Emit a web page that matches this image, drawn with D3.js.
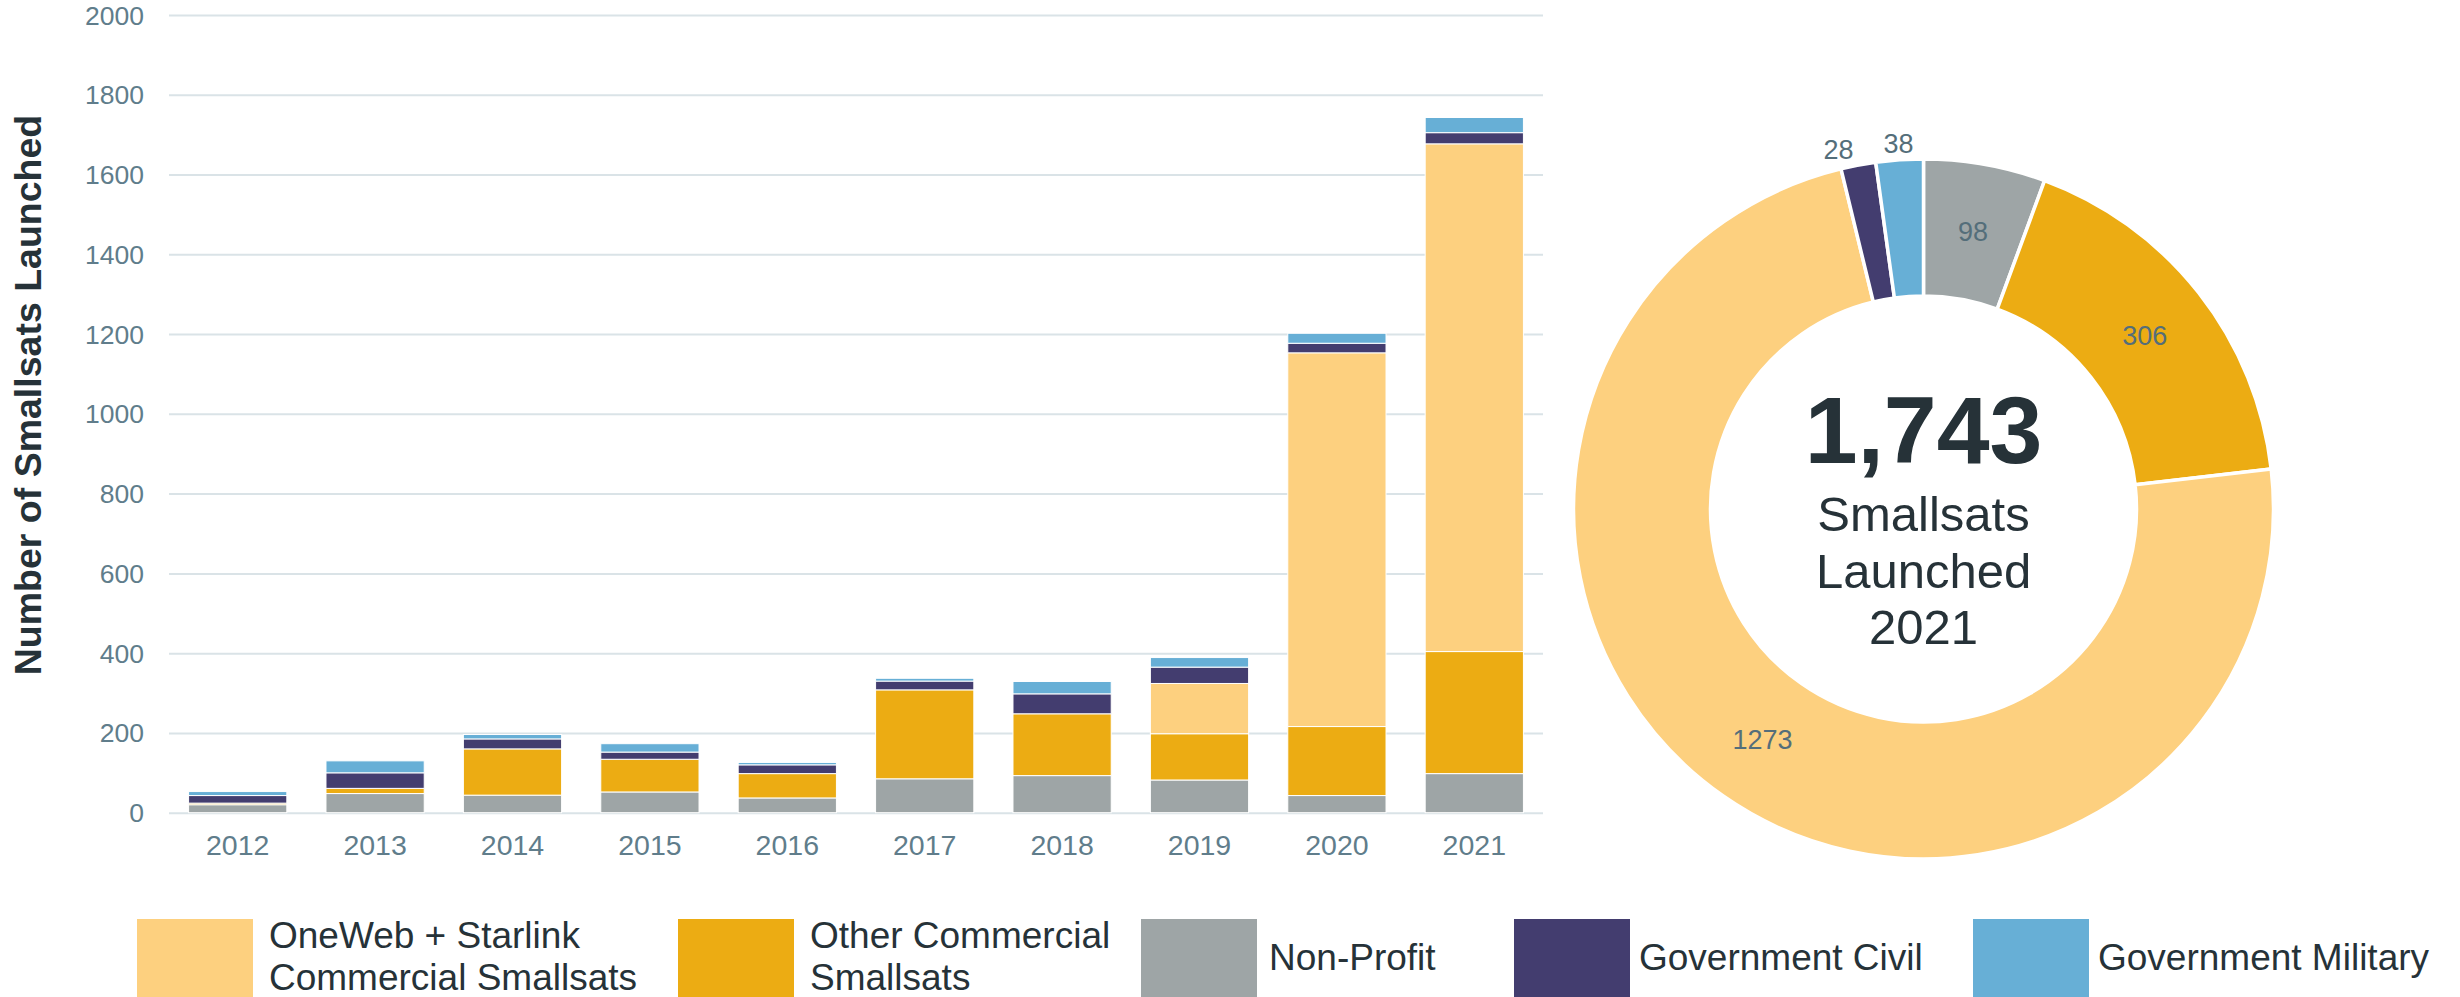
<!DOCTYPE html>
<html>
<head>
<meta charset="utf-8">
<script src="https://cdn.jsdelivr.net/npm/d3@7"></script>
<style>
  body { margin: 0; background: #fff; }
  svg { display: block; font-family: "Liberation Sans", Arial, sans-serif; }
</style>
</head>
<body>
<svg id="chart"></svg>
<script>
// Data (smallsats launched per year, by operator type)
const years = ["2012", "2013", "2014", "2015", "2016", "2017", "2018", "2019", "2020", "2021"];
const nonProfit = [20, 48, 44, 52, 37, 85, 93, 82, 43, 98];
const otherCommercial = [4, 13, 116, 82, 61, 223, 155, 116, 173, 306];
const oneWebStarlink = [0, 0, 0, 0, 0, 0, 0, 126, 937, 1273];
const govCivil = [19, 39, 25, 18, 22, 22, 50, 41, 24, 28];
const govMilitary = [10, 30, 11, 21, 6, 7, 31, 24, 25, 38];

const yTicks = [0, 200, 400, 600, 800, 1000, 1200, 1400, 1600, 1800, 2000];
const donutYear = "2021";

// stacking order (bottom -> top) and donut order (clockwise from 12 o'clock)
const seriesKeys = ["nonProfit", "otherCommercial", "oneWebStarlink", "govCivil", "govMilitary"];
const seriesValues = { nonProfit, otherCommercial, oneWebStarlink, govCivil, govMilitary };
const seriesColors = ["#9ea5a6", "#ecac13", "#fdd07f", "#433d6f", "#67afd6"];

// legend order and text
const legendKeys = ["oneWebStarlink", "otherCommercial", "nonProfit", "govCivil", "govMilitary"];
const legendLabels = [
  ["OneWeb + Starlink", "Commercial Smallsats"],
  ["Other Commercial", "Smallsats"],
  ["Non-Profit"],
  ["Government Civil"],
  ["Government Military"],
];

const width = 2460;
const height = 997;
const plot = { left: 169, right: 1543, top: 15, bottom: 812.7 };
const tickColor = "#607d8b";
const darkText = "#263238";

const color = d3.scaleOrdinal().domain(seriesKeys).range(seriesColors);

const svg = d3.select("#chart").attr("width", width).attr("height", height);

// table for the stack
const table = years.map((y, i) => {
  const row = { year: y };
  seriesKeys.forEach((k) => (row[k] = seriesValues[k][i]));
  return row;
});

const x = d3.scaleBand()
  .domain(years)
  .range([plot.left, plot.right])
  .paddingInner(0.285)
  .paddingOuter(0.1425);

const y = d3.scaleLinear().domain([0, 2000]).range([plot.bottom, plot.top]);

// y axis with gridlines
const yAxis = svg.append("g")
  .attr("transform", "translate(" + plot.left + ",0)")
  .call(d3.axisLeft(y)
    .tickValues(yTicks)
    .tickFormat(d3.format("d"))
    .tickSize(-(plot.right - plot.left))
    .tickPadding(25));
yAxis.select(".domain").remove();
yAxis.selectAll(".tick line").attr("stroke", "#dae3e7").attr("stroke-width", 2);
yAxis.selectAll(".tick text")
  .attr("fill", tickColor)
  .attr("dy", "0.34em")
  .style("font-size", "26.5px")
  .style("font-family", '"Liberation Sans", Arial, sans-serif');

// x axis
const xAxis = svg.append("g")
  .attr("transform", "translate(0," + plot.bottom + ")")
  .call(d3.axisBottom(x).tickSize(0).tickPadding(22));
xAxis.select(".domain").remove();
xAxis.selectAll(".tick text")
  .attr("fill", tickColor)
  .style("font-size", "28.5px")
  .style("font-family", '"Liberation Sans", Arial, sans-serif');

// y axis title
svg.append("text")
  .attr("transform", "translate(41,395) rotate(-90)")
  .attr("text-anchor", "middle")
  .attr("fill", darkText)
  .style("font-size", "37.5px")
  .style("font-weight", "bold")
  .text("Number of Smallsats Launched");

// stacked bars
const stacked = d3.stack().keys(seriesKeys)(table);

svg.append("g")
  .selectAll("g")
  .data(stacked)
  .join("g")
  .attr("fill", (d) => color(d.key))
  .selectAll("rect")
  .data((d) => d.filter((p) => p[1] - p[0] > 0))
  .join("rect")
  .attr("x", (d) => x(d.data.year))
  .attr("width", x.bandwidth())
  .attr("y", (d) => y(d[1]))
  .attr("height", (d) => y(d[0]) - y(d[1]))
  .attr("stroke", "#fff")
  .attr("stroke-width", 1);

// donut for the last year
const yearIdx = years.indexOf(donutYear);
const donutData = seriesKeys.map((k) => ({ key: k, value: seriesValues[k][yearIdx] }));
const total = d3.sum(donutData, (d) => d.value);

const cx = 1923.5;
const cy = 509;
const outerR = 350;
const innerR = 213;

const pie = d3.pie().sort(null).value((d) => d.value);
const arc = d3.arc().innerRadius(innerR).outerRadius(outerR);
const labelArcOut = d3.arc().innerRadius(366).outerRadius(366);

const donut = svg.append("g").attr("transform", "translate(" + cx + "," + cy + ")");

const arcs = pie(donutData);

donut.selectAll("path")
  .data(arcs)
  .join("path")
  .attr("d", arc)
  .attr("fill", (d) => color(d.data.key))
  .attr("stroke", "#fff")
  .attr("stroke-width", 3.5);

// label positions: inside slices at the centroid, small slices outside;
// outside labels are pushed apart so they don't collide (walking counter-clockwise)
const labelPos = arcs.map((d) => {
  const small = d.data.value / total < 0.04;
  return small ? labelArcOut.centroid(d) : arc.centroid(d);
});
let lastX = null;
for (let i = arcs.length - 1; i >= 0; i--) {
  if (arcs[i].data.value / total >= 0.04) continue;
  if (lastX !== null && labelPos[i][0] > lastX - 60) labelPos[i][0] = lastX - 60;
  lastX = labelPos[i][0];
}

donut.selectAll("text.slice-label")
  .data(arcs)
  .join("text")
  .attr("class", "slice-label")
  .attr("transform", (d, i) => "translate(" + labelPos[i][0] + "," + labelPos[i][1] + ")")
  .attr("text-anchor", "middle")
  .attr("dy", "0.35em")
  .attr("fill", "#546e7a")
  .style("font-size", "27px")
  .text((d) => d.data.value);

// centre text
donut.append("text")
  .attr("text-anchor", "middle")
  .attr("y", -46)
  .attr("fill", darkText)
  .style("font-size", "95px")
  .style("font-weight", "bold")
  .text(d3.format(",")(total));

const centreLines = ["Smallsats", "Launched", donutYear];
donut.selectAll("text.centre-line")
  .data(centreLines)
  .join("text")
  .attr("class", "centre-line")
  .attr("text-anchor", "middle")
  .attr("y", (d, i) => 22 + i * 56.5)
  .attr("fill", darkText)
  .style("font-size", "49px")
  .text((d) => d);

// legend
const legendX = [137, 678, 1141, 1514, 1973];
const legend = svg.append("g");

legendKeys.forEach((k, i) => {
  const item = legend.append("g").attr("transform", "translate(" + legendX[i] + ",919)");
  item.append("rect")
    .attr("width", 116)
    .attr("height", 80)
    .attr("fill", color(k));

  const lines = legendLabels[i];
  const textX = i < 2 ? 132 : (i === 2 ? 128 : 125);
  const text = item.append("text")
    .attr("fill", darkText)
    .style("font-size", "37px");
  lines.forEach((line, j) => {
    text.append("tspan")
      .attr("x", textX)
      .attr("y", lines.length === 1 ? 51 : 29 + j * 42)
      .text(line);
  });
});
</script>
</body>
</html>
